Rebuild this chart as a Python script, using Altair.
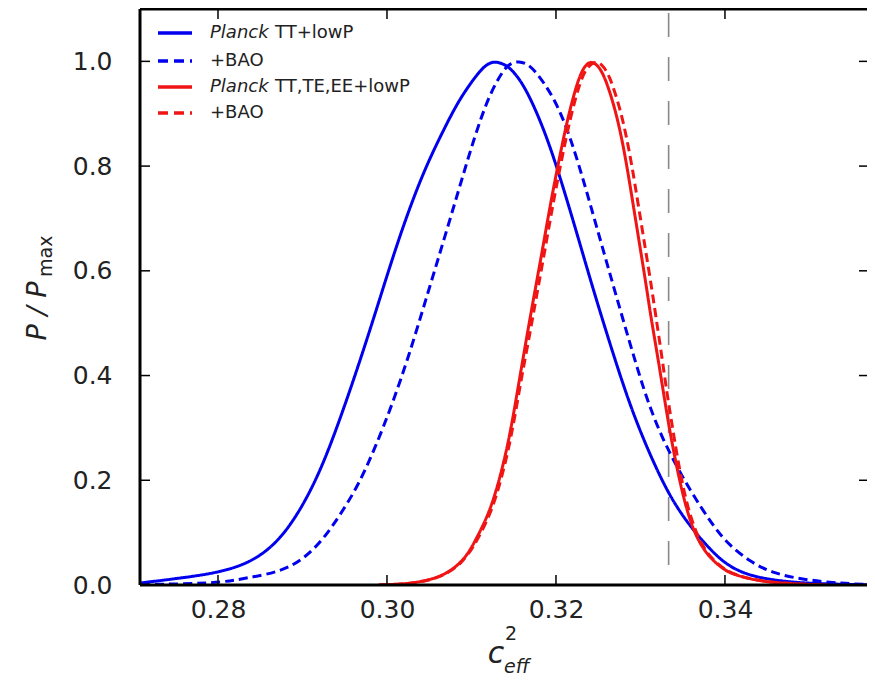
import altair as alt
import pandas as pd

# ---------------- data ----------------
tt_x = [0.2709, 0.2750, 0.2800, 0.2839, 0.2867, 0.2887, 0.2907, 0.2926, 0.2946, 0.2966,
        0.2986, 0.3006, 0.3026, 0.3046, 0.3066, 0.3085, 0.3105, 0.3117, 0.3127, 0.3137,
        0.3148, 0.3164, 0.3184, 0.3202, 0.3226, 0.3243, 0.3264, 0.3284, 0.3304, 0.3333,
        0.3359, 0.3383, 0.3402, 0.3430, 0.3477, 0.3520, 0.3568]
tt_y = [0.004, 0.012, 0.023, 0.043, 0.077, 0.117, 0.171, 0.237, 0.324, 0.418,
        0.518, 0.622, 0.717, 0.799, 0.866, 0.926, 0.972, 0.994, 1.000, 0.996,
        0.985, 0.950, 0.878, 0.795, 0.665, 0.570, 0.460, 0.360, 0.275, 0.172,
        0.111, 0.067, 0.038, 0.016, 0.005, 0.002, 0.0005]

ttbao_x = [0.2709, 0.2760, 0.2805, 0.2833, 0.2874, 0.2902, 0.2925, 0.2945, 0.2966, 0.2986,
           0.3006, 0.3026, 0.3046, 0.3066, 0.3085, 0.3103, 0.3121, 0.3139, 0.3147, 0.3156,
           0.3165, 0.3174, 0.3198, 0.3218, 0.3237, 0.3257, 0.3277, 0.3295, 0.3312, 0.3333,
           0.3359, 0.3383, 0.3402, 0.3430, 0.3457, 0.3497, 0.3540, 0.3568]
ttbao_y = [0.001, 0.002, 0.005, 0.013, 0.025, 0.050, 0.088, 0.135, 0.190, 0.262,
           0.344, 0.438, 0.545, 0.652, 0.755, 0.853, 0.937, 0.987, 0.997, 1.000,
           0.996, 0.985, 0.932, 0.852, 0.748, 0.633, 0.520, 0.420, 0.333, 0.255,
           0.180, 0.120, 0.080, 0.044, 0.022, 0.009, 0.003, 0.001]

full_x = [0.2990, 0.3020, 0.3035, 0.3050, 0.3062, 0.3075, 0.3086, 0.3096, 0.3105, 0.3121,
          0.3133, 0.3145, 0.3157, 0.3165, 0.3174, 0.3184, 0.3194, 0.3204, 0.3214, 0.3226,
          0.3234, 0.3241, 0.3248, 0.3257, 0.3269, 0.3277, 0.3284, 0.3292, 0.3300, 0.3307,
          0.3312, 0.3320, 0.3327, 0.3333, 0.3341, 0.3351, 0.3363, 0.3379, 0.3398, 0.3410,
          0.3440, 0.3480, 0.3520]
full_y = [0.000, 0.002, 0.005, 0.010, 0.016, 0.027, 0.041, 0.060, 0.086, 0.137,
          0.200, 0.280, 0.395, 0.470, 0.552, 0.640, 0.733, 0.815, 0.893, 0.965,
          0.992, 1.000, 0.995, 0.975, 0.915, 0.860, 0.800, 0.720, 0.640, 0.570,
          0.515, 0.440, 0.370, 0.310, 0.240, 0.165, 0.100, 0.056, 0.030, 0.020,
          0.007, 0.002, 0.000]

fullbao_x = [0.2991, 0.3021, 0.3036, 0.3051, 0.3063, 0.3076, 0.3087, 0.3097, 0.3107, 0.3123,
             0.3135, 0.3147, 0.3159, 0.3168, 0.3177, 0.3187, 0.3197, 0.3207, 0.3217, 0.3229,
             0.3238, 0.3247, 0.3254, 0.3263, 0.3275, 0.3283, 0.3290, 0.3298, 0.3306, 0.3313,
             0.3318, 0.3325, 0.3331, 0.3337, 0.3344, 0.3353, 0.3365, 0.3380, 0.3399, 0.3411,
             0.3441, 0.3481, 0.3521]
fullbao_y = full_y

x_ticks = [0.28, 0.30, 0.32, 0.34]
y_ticks = [0.0, 0.2, 0.4, 0.6, 0.8, 1.0]
ref_value = [1.0 / 3.0]

legend_prefix = ["Planck", "", "Planck", ""]
legend_text = ["TT+lowP", "+BAO", "TT,TE,EE+lowP", "+BAO"]
legend_color = ["#0000ee", "#0000ee", "#f01414", "#f01414"]
legend_dashed = [False, True, False, True]

# ---------------- layout ----------------
W, H = 727, 576
X_DOM = [0.27077, 0.35681]
Y_DOM = [0.0, 1.1]
FONT = "DejaVu Sans"
BLUE, RED = "#0000ee", "#f01414"

xs = alt.Scale(domain=X_DOM, nice=False, zero=False)
ys = alt.Scale(domain=Y_DOM, nice=False, zero=False)
one = pd.DataFrame({"k": [0]})


def curve(xv, yv, color, dashed):
    df = pd.DataFrame({"x": xv, "y": yv})
    return alt.Chart(df).mark_line(
        color=color, strokeWidth=3, interpolate="basis", clip=True,
        strokeDash=[9, 5] if dashed else [1, 0],
    ).encode(x=alt.X("x:Q", scale=xs), y=alt.Y("y:Q", scale=ys))


base_axes = alt.Chart(pd.DataFrame({"x": x_ticks})).mark_point(opacity=0).encode(
    x=alt.X("x:Q", scale=xs,
            axis=alt.Axis(values=x_ticks, format=".2f", ticks=False, domain=False, grid=False,
                          labelFont=FONT, labelFontSize=25, labelColor="#222",
                          labelPadding=12, title=None)),
    y=alt.Y("y:Q", scale=ys,
            axis=alt.Axis(values=y_ticks, format=".1f", ticks=False, domain=False, grid=False,
                          labelFont=FONT, labelFontSize=25, labelColor="#222",
                          labelPadding=28, title=None)),
).transform_calculate(y="0")

ref = alt.Chart(pd.DataFrame({"x": ref_value})).mark_rule(
    color="#888888", strokeWidth=1.6, strokeDash=[24, 20]
).encode(x=alt.X("x:Q", scale=xs), y=alt.value(4), y2=alt.value(H))

xt = pd.DataFrame({"x": x_ticks})
yt = pd.DataFrame({"y": y_ticks})
tick_style = dict(color="black", strokeWidth=1.5)
ticks_bottom = alt.Chart(xt).mark_rule(**tick_style).encode(
    x=alt.X("x:Q", scale=xs), y=alt.value(H), y2=alt.value(H - 10))
ticks_top = alt.Chart(xt).mark_rule(**tick_style).encode(
    x=alt.X("x:Q", scale=xs), y=alt.value(0), y2=alt.value(10))
ticks_left = alt.Chart(yt).mark_rule(**tick_style).encode(
    y=alt.Y("y:Q", scale=ys), x=alt.value(0), x2=alt.value(10))
ticks_right = alt.Chart(yt).mark_rule(**tick_style).encode(
    y=alt.Y("y:Q", scale=ys), x=alt.value(W - 8), x2=alt.value(W))

spine = dict(color="black", strokeWidth=3)
spine_left = alt.Chart(one).mark_rule(**spine).encode(
    x=alt.value(0), y=alt.value(0), y2=alt.value(H))
spine_bottom = alt.Chart(one).mark_rule(**spine).encode(
    x=alt.value(0), x2=alt.value(W), y=alt.value(H))
spine_top = alt.Chart(one).mark_rule(**spine).encode(
    x=alt.value(0), x2=alt.value(W), y=alt.value(0))

layers = [base_axes, ref,
          curve(tt_x, tt_y, BLUE, False), curve(ttbao_x, ttbao_y, BLUE, True),
          curve(full_x, full_y, RED, False), curve(fullbao_x, fullbao_y, RED, True),
          ticks_bottom, ticks_top, ticks_left, ticks_right,
          spine_left, spine_bottom, spine_top]

# legend (drawn by hand so that "Planck" can be italic)
row_y = [24, 52, 78, 104]
for i in range(4):
    layers.append(alt.Chart(one).mark_rule(
        color=legend_color[i], strokeWidth=3.5,
        strokeDash=[10, 6] if legend_dashed[i] else [1, 0],
    ).encode(x=alt.value(18), x2=alt.value(52), y=alt.value(row_y[i])))
    tx = 70
    if legend_prefix[i]:
        layers.append(alt.Chart(one).mark_text(
            font=FONT, fontSize=18, fontStyle="italic", align="left", baseline="middle",
            color="#222").encode(x=alt.value(tx), y=alt.value(row_y[i]),
                                 text=alt.value(legend_prefix[i])))
        tx = 135
    layers.append(alt.Chart(one).mark_text(
        font=FONT, fontSize=18, align="left", baseline="middle", color="#222"
    ).encode(x=alt.value(tx), y=alt.value(row_y[i]), text=alt.value(legend_text[i])))

# axis titles
layers += [
    alt.Chart(one).mark_text(font=FONT, fontSize=30, fontStyle="italic", align="center",
                             baseline="alphabetic", color="#222").encode(
        x=alt.value(356), y=alt.value(654), text=alt.value("c")),
    alt.Chart(one).mark_text(font=FONT, fontSize=19, align="left",
                             baseline="alphabetic", color="#222").encode(
        x=alt.value(365), y=alt.value(631), text=alt.value("2")),
    alt.Chart(one).mark_text(font=FONT, fontSize=19, fontStyle="italic", align="left",
                             baseline="alphabetic", color="#222").encode(
        x=alt.value(364), y=alt.value(664), text=alt.value("eff")),
    alt.Chart(one).mark_text(font=FONT, fontSize=27, fontStyle="italic", align="center",
                             baseline="alphabetic", angle=270, color="#222").encode(
        x=alt.value(-94), y=alt.value(302), text=alt.value("P / P")),
    alt.Chart(one).mark_text(font=FONT, fontSize=19, align="left",
                             baseline="alphabetic", angle=270, color="#222").encode(
        x=alt.value(-88), y=alt.value(268), text=alt.value("max")),
]

chart = alt.layer(*layers).properties(
    width=W, height=H,
    autosize=alt.AutoSizeParams(type="none"),
    padding={"left": 132, "top": 1, "right": 0, "bottom": 92},
).configure_view(stroke=None).configure(background="white")

chart.save("out.html", embed_options={"renderer": "svg", "actions": False})
